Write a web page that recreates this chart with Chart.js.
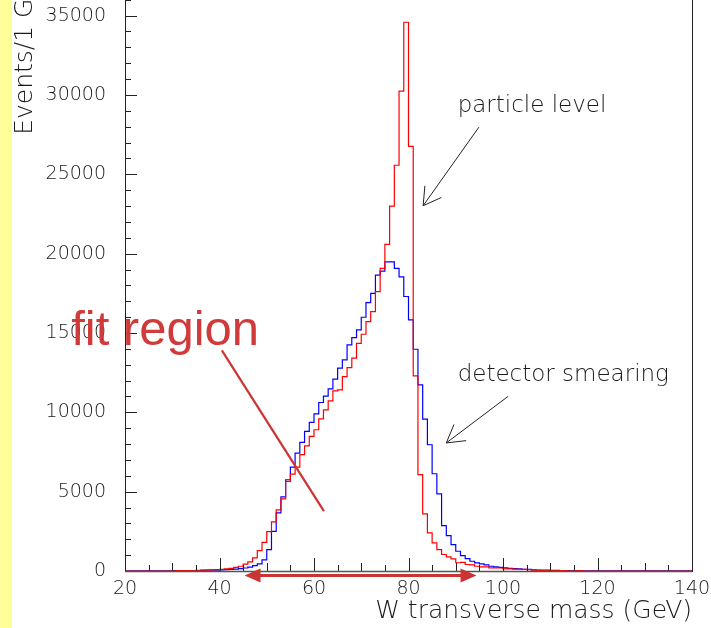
<!DOCTYPE html>
<html>
<head>
<meta charset="utf-8">
<script src="https://cdn.jsdelivr.net/npm/chart.js@4/dist/chart.umd.min.js"></script>
<style>
  html, body { margin: 0; padding: 0; background: #fff; overflow: hidden; }
  #wrap { position: absolute; left: 0; top: -40px; width: 711px; height: 668px; }
  #strip { position: absolute; left: 0; top: 0; width: 12px; height: 628px; background: #ffff99; }
</style>
</head>
<body>
<div id="wrap"><canvas id="wmass" width="711" height="668"></canvas></div>
<div id="strip"></div>
<script>
// 1 GeV bins from 20 to 140 GeV (lower edges)
const binLow = Array.from({ length: 120 }, (_, i) => 20 + i);

// generator-level transverse mass
const particleLevel = [
  0, 0, 0, 0, 0, 0, 0, 0, 0, 0,
  10, 20, 20, 30, 30, 40, 50, 60, 70, 90,
  110, 140, 170, 230, 300, 430, 580, 830, 1280, 1800,
  2480, 3100, 3850, 4550, 5650, 6100, 6550, 7330, 7890, 8480,
  8900, 9590, 10160, 10720, 11350, 11420, 12250, 12820, 13410, 14350,
  14920, 15710, 16340, 17600, 19070, 20580, 22990, 25570, 30240, 34580,
  26760, 12300, 6070, 3600, 2400, 1770, 1350, 1040, 890, 765,
  520, 540, 410, 390, 300, 260, 260, 200, 200, 190,
  140, 130, 120, 110, 100, 90, 60, 40, 30, 30,
  20, 20, 20, 10, 10, 10, 30, 0, 0, 0,
  0, 0, 0, 0, 0, 0, 0, 0, 0, 0,
  0, 0, 0, 0, 0, 0, 0, 0, 0, 0
];

// same events after detector smearing
const detectorSmeared = [
  10, 10, 10, 10, 10, 10, 10, 10, 10, 10,
  20, 20, 20, 30, 30, 30, 40, 50, 50, 60,
  70, 90, 100, 120, 150, 190, 240, 340, 450, 700,
  1350, 2500, 3660, 4670, 5750, 6550, 7430, 8100, 8795, 9370,
  9900, 10620, 11020, 11480, 12090, 12780, 13300, 14245, 14705, 15190,
  15990, 16910, 17500, 18650, 18900, 19485, 19485, 19070, 18540, 17300,
  15820, 13975, 11730, 9570, 7955, 6130, 4855, 2860, 2230, 1665,
  1245, 975, 785, 615, 515, 450, 390, 300, 260, 230,
  200, 170, 150, 130, 110, 100, 70, 60, 50, 50,
  40, 40, 30, 30, 30, 20, 20, 10, 10, 10,
  10, 10, 10, 10, 10, 10, 10, 10, 10, 10,
  10, 10, 10, 10, 10, 10, 10, 10, 10, 10
];

const xTicks = [20, 40, 60, 80, 100, 120, 140];
const yTicks = [0, 5000, 10000, 15000, 20000, 25000, 30000, 35000];
const xRange = [20, 140];
const yRange = [0, 38000];

const thinFont = 'DejaVu Sans';
const ink = '#1a1a1a';
const fitRed = '#cc3333';

function histPoints(values) {
  const pts = binLow.map((x, i) => ({ x: x, y: values[i] }));
  pts.push({ x: xRange[1], y: values[values.length - 1] });
  return pts;
}

// ROOT-style frame with inward ticks
const frameTicks = {
  id: 'frameTicks',
  afterDraw(chart) {
    const { ctx, chartArea: a, scales: { x, y } } = chart;
    ctx.save();
    ctx.strokeStyle = '#222';
    ctx.lineWidth = 1;
    ctx.beginPath();
    for (let v = xRange[0]; v <= xRange[1]; v += 5) {
      const px = Math.round(x.getPixelForValue(v)) + 0.5;
      const len = v % 20 === 0 ? 13 : (v % 10 === 0 ? 8 : 6);
      ctx.moveTo(px, a.bottom);
      ctx.lineTo(px, a.bottom - len);
    }
    for (let v = 0; v <= yRange[1]; v += 1000) {
      const py = Math.round(y.getPixelForValue(v)) + 0.5;
      const len = v % 5000 === 0 ? 12 : 6;
      ctx.moveTo(a.left, py);
      ctx.lineTo(a.left + len, py);
    }
    ctx.stroke();
    ctx.strokeRect(Math.round(a.left) + 0.5, Math.round(a.top) + 0.5,
      Math.round(a.right - a.left), Math.round(a.bottom - a.top));
    ctx.strokeStyle = '#555';
    ctx.lineWidth = 1.5;
    ctx.beginPath();
    ctx.moveTo(a.left, Math.round(a.bottom) + 0.5);
    ctx.lineTo(a.right, Math.round(a.bottom) + 0.5);
    ctx.stroke();
    ctx.restore();
  }
};

function openArrow(ctx, x0, y0, x1, y1, len, ang) {
  const t = Math.atan2(y0 - y1, x0 - x1);
  ctx.beginPath();
  ctx.moveTo(x0, y0);
  ctx.lineTo(x1, y1);
  ctx.moveTo(x1 + len * Math.cos(t + ang), y1 + len * Math.sin(t + ang));
  ctx.lineTo(x1, y1);
  ctx.lineTo(x1 + len * Math.cos(t - ang), y1 + len * Math.sin(t - ang));
  ctx.stroke();
}

// labels, arrows and the fit window, placed in axis units
const notes = {
  id: 'notes',
  afterDraw(chart) {
    const { ctx, scales: { x, y } } = chart;
    const X = v => x.getPixelForValue(v);
    const Y = v => y.getPixelForValue(v);
    ctx.save();

    ctx.fillStyle = ink;
    ctx.font = '200 23px "DejaVu Sans"';
    ctx.textBaseline = 'alphabetic';
    ctx.fillText('particle level', X(90.4), Y(28950));
    ctx.fillText('detector smearing', X(90.4), Y(12000));

    ctx.strokeStyle = '#222';
    ctx.lineWidth = 1;
    openArrow(ctx, X(94.9), Y(27970), X(83.1), Y(23020), 20, 0.53);
    openArrow(ctx, X(101.1), Y(11010), X(88.0), Y(8070), 20, 0.53);

    // fit window
    ctx.strokeStyle = fitRed;
    ctx.fillStyle = fitRed;
    ctx.lineWidth = 2.2;
    ctx.beginPath();
    ctx.moveTo(X(40.5), Y(13900));
    ctx.lineTo(X(62.1), Y(3770));
    ctx.stroke();

    const ay = Y(-290), xl = X(45.3), xr = X(94.4), head = 16, half = 7;
    ctx.lineWidth = 3;
    ctx.beginPath();
    ctx.moveTo(xl + head - 2, ay);
    ctx.lineTo(xr - head + 2, ay);
    ctx.stroke();
    ctx.beginPath();
    ctx.moveTo(xl, ay);
    ctx.lineTo(xl + head, ay - half);
    ctx.lineTo(xl + head, ay + half);
    ctx.closePath();
    ctx.moveTo(xr, ay);
    ctx.lineTo(xr - head, ay - half);
    ctx.lineTo(xr - head, ay + half);
    ctx.closePath();
    ctx.fill();

    ctx.fillStyle = '#d03a3a';
    ctx.font = '49px "Liberation Sans"';
    ctx.fillText('fit region', X(8.6), Y(14260));
    ctx.restore();
  }
};

new Chart(document.getElementById('wmass'), {
  type: 'line',
  data: {
    datasets: [{
      label: 'particle level',
      data: histPoints(particleLevel),
      borderColor: '#ff0000',
      borderWidth: 1.2,
      stepped: 'before',
      pointRadius: 0,
      fill: false,
      order: 0
    }, {
      label: 'detector smearing',
      data: histPoints(detectorSmeared),
      borderColor: '#0000ff',
      borderWidth: 1.2,
      stepped: 'before',
      pointRadius: 0,
      fill: false,
      order: 1
    }]
  },
  options: {
    responsive: false,
    animation: false,
    devicePixelRatio: 1,
    layout: { padding: { top: 8, right: 19, left: 0, bottom: 0 } },
    plugins: { legend: { display: false }, tooltip: { enabled: false } },
    scales: {
      x: {
        type: 'linear',
        min: xRange[0],
        max: xRange[1],
        grid: { display: false, drawTicks: false },
        border: { display: false },
        afterBuildTicks(s) { s.ticks = xTicks.map(v => ({ value: v })); },
        ticks: {
          padding: 7, maxRotation: 0, color: ink,
          callback: v => String(v),
          font: { family: thinFont, size: 19, weight: 200 }
        },
        title: {
          display: true, text: 'W transverse mass (GeV)', align: 'end', color: ink,
          font: { family: thinFont, size: 25, weight: 200, lineHeight: 1 },
          padding: { top: 0, bottom: 4 }
        },
        afterFit(s) { s.height = 57; s.paddingLeft = 0; s.paddingRight = 0; }
      },
      y: {
        min: yRange[0],
        max: yRange[1],
        grid: { display: false, drawTicks: false },
        border: { display: false },
        afterBuildTicks(s) { s.ticks = yTicks.map(v => ({ value: v })); },
        ticks: {
          padding: 19, color: ink,
          callback: v => String(v),
          font: { family: thinFont, size: 19, weight: 200 }
        },
        title: {
          display: true, text: 'Events/1 GeV', align: 'end', color: ink,
          font: { family: thinFont, size: 25, weight: 200, lineHeight: 1 },
          padding: { top: 13, bottom: 0 }
        },
        afterFit(s) { s.width = 125; s.paddingTop = 0; s.paddingBottom = 0; }
      }
    }
  },
  plugins: [frameTicks, notes]
});
</script>
</body>
</html>
